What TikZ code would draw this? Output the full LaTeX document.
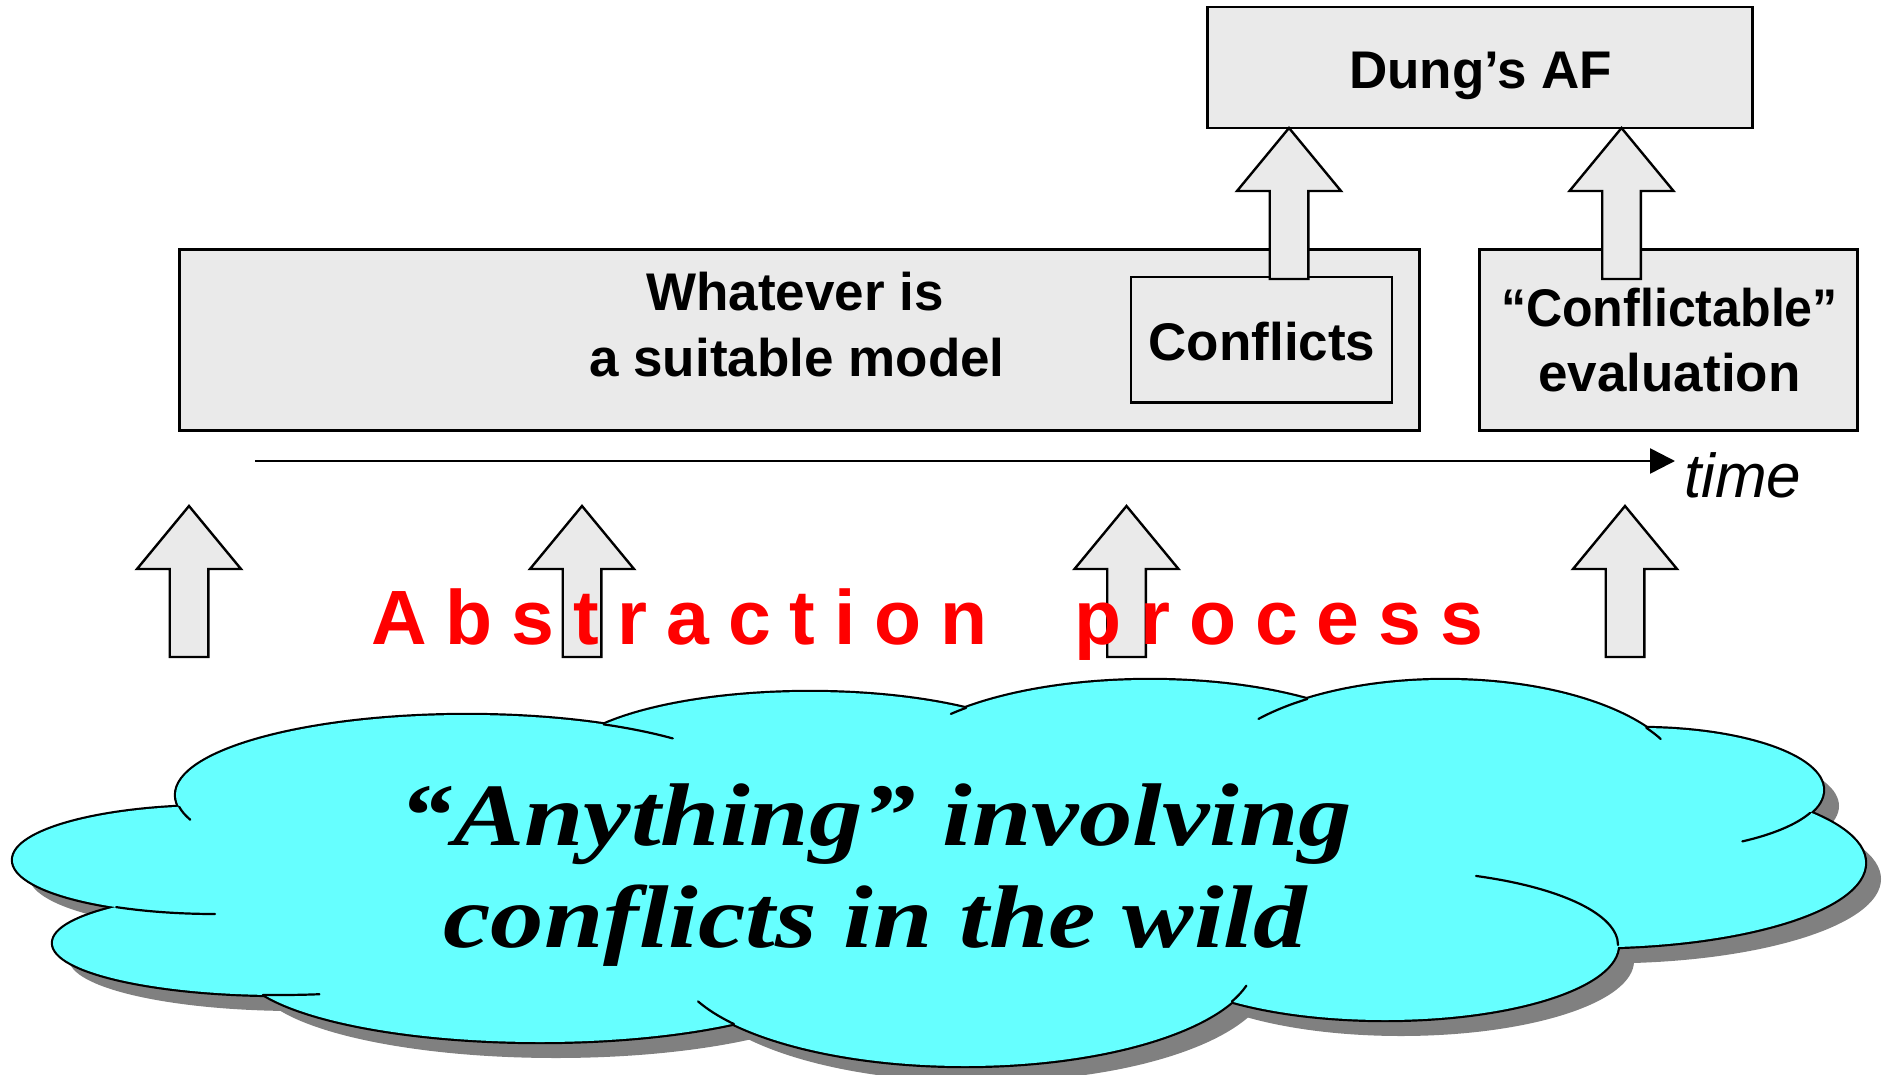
\documentclass[tikz,border=0pt]{standalone}
\usepackage{fontspec}
\setmainfont{Liberation Sans}
\newfontfamily\cloudfont{Liberation Serif}
\newfontfamily\spacedfont[LetterSpace=24.5]{Liberation Sans}
\usetikzlibrary{arrows.meta}

\definecolor{boxgray}{HTML}{EAEAEA}
\definecolor{cloudcyan}{HTML}{66FFFF}
\definecolor{cloudshadow}{HTML}{808080}

% the cloud is a union of elliptic lobes: centre x/centre y/x radius/y radius
\newcommand\cloudlobes[2]{%
  \foreach \cx/\cy/\rx/\ry in {467/795/291/80,810/767/250/75,1150/775/260/95,
      1445/785/240/105,1640/790/183/62,1590/863/275/84.4,1385/945/233/75,
      965/960/290/106,540/964/300/78,280/943/227/52,215/860/202/54}
    {\path[#2] ({\cx+#1},{\cy+#1}) ellipse[x radius=\rx, y radius=\ry];}%
}
% inner continuation of a lobe outline: centre, radii, start and end angle
\newcommand\cloudtail[6]{%
  \draw[cloudedge] (#1,#2) ++(#5:#3 and #4)
    arc[start angle=#5, end angle=#6, x radius=#3, y radius=#4];}

\begin{document}
\begin{tikzpicture}[x=1pt, y=1pt, yscale=-1,
  graybox/.style={draw=black, line width=2.5pt, fill=boxgray, inner sep=0pt},
  boldlabel/.style={font=\fontsize{53}{60}\selectfont\bfseries, inner sep=0pt, anchor=base},
  timelabel/.style={font=\fontsize{62}{70}\selectfont\itshape, inner sep=0pt, anchor=base west},
  spacedlabel/.style={font=\spacedfont\fontsize{77}{80}\selectfont\bfseries, text=red,
    inner sep=0pt, anchor=base west},
  cloudtext/.style={font=\cloudfont\fontsize{89}{100}\selectfont\bfseries\itshape,
    inner sep=0pt, anchor=base},
  cloudedge/.style={draw=black, line width=2.2pt, line cap=round},
  arrowbody/.style={draw=black, line width=2.4pt, fill=boxgray, line join=miter},
  timeline/.style={draw=black, line width=2.5pt, -{Triangle[length=25pt, width=25pt]}},
  % block arrow with its tip at the pic origin, pointing up
  blockarrow/.pic={\path[arrowbody] (0,0) -- (52,-63) -- (19.3,-63) -- (19.3,-151)
      -- (-19.3,-151) -- (-19.3,-63) -- (-52,-63) -- cycle;}
]
\useasboundingbox (0,0) rectangle (1903,1075);

% boxes
\node[graybox, minimum width=545pt, minimum height=121pt] (dung) at (1480,67.5) {};
\node[graybox, minimum width=1240pt, minimum height=181pt] (model) at (799.5,340) {};
\node[graybox, minimum width=261pt, minimum height=125.5pt] (conflicts) at (1261.5,339.75) {};
\node[graybox, minimum width=378pt, minimum height=181pt] (evaluation) at (1668.5,340) {};

\node[boldlabel] (dungtext) at (1480.7,88.3) {Dung’s AF};
\node[boldlabel] (modeltext1) at (795,311) {Whatever is};
\node[boldlabel] (modeltext2) at (797,376.5) {a suitable model};
\node[boldlabel] (conflictstext) at (1262,360) {Conflicts};
\node[boldlabel] (evaltext1) at (1669.5,326.7) {\scalebox{0.945}[1]{“Conflictable”}};
\node[boldlabel] (evaltext2) at (1669.5,391.7) {evaluation};

% block arrows up to Dung's AF
\pic at (1289,128) {blockarrow};
\pic at (1621.5,128) {blockarrow};

% time axis
\coordinate (tstart) at (255,461);
\coordinate (tend) at (1675,461);
\draw[timeline] (tstart) -- (tend);
\node[timelabel] (timetext) at (1684,497) {time};

% abstraction arrows
\pic at (189,506) {blockarrow};
\pic at (582,506) {blockarrow};
\pic at (1126.5,506) {blockarrow};
\pic at (1625,506) {blockarrow};

\node[spacedlabel] (abstraction) at (371,644) {Abstraction\hspace{87pt}process};

% cloud: shadow, outline, fill, inner strokes
\cloudlobes{16}{fill=cloudshadow}
\cloudlobes{0}{draw=black, line width=4.4pt}
\cloudlobes{0}{fill=cloudcyan}
\fill[cloudcyan] (250,850) -- (600,790) -- (900,770) -- (1200,790) -- (1550,860)
  -- (1550,930) -- (1300,990) -- (900,1000) -- (600,990) -- (300,960) -- cycle;

\cloudtail{467}{795}{291}{80}{-62}{-45}
\cloudtail{467}{795}{291}{80}{171.5}{162}
\cloudtail{1150}{775}{260}{95}{-135}{-140}
\cloudtail{1445}{785}{240}{105}{-125}{-141}
\cloudtail{1445}{785}{240}{105}{-33}{-26}
\cloudtail{1640}{790}{183}{62}{21.7}{56}
\cloudtail{1385}{945}{233}{75}{0}{-67}
\cloudtail{965}{960}{290}{106}{23}{14}
\cloudtail{965}{960}{290}{106}{142.8}{157}
\cloudtail{280}{943}{227}{52}{94.3}{80}
\cloudtail{215}{860}{202}{54}{119.3}{90}

\node[cloudtext] (cloudline1) at (876,845) {\scalebox{1.2}[1]{“Anything” involving}};
\node[cloudtext] (cloudline2) at (875,947) {\scalebox{1.2}[1]{conflicts in the wild}};
\end{tikzpicture}
\end{document}
